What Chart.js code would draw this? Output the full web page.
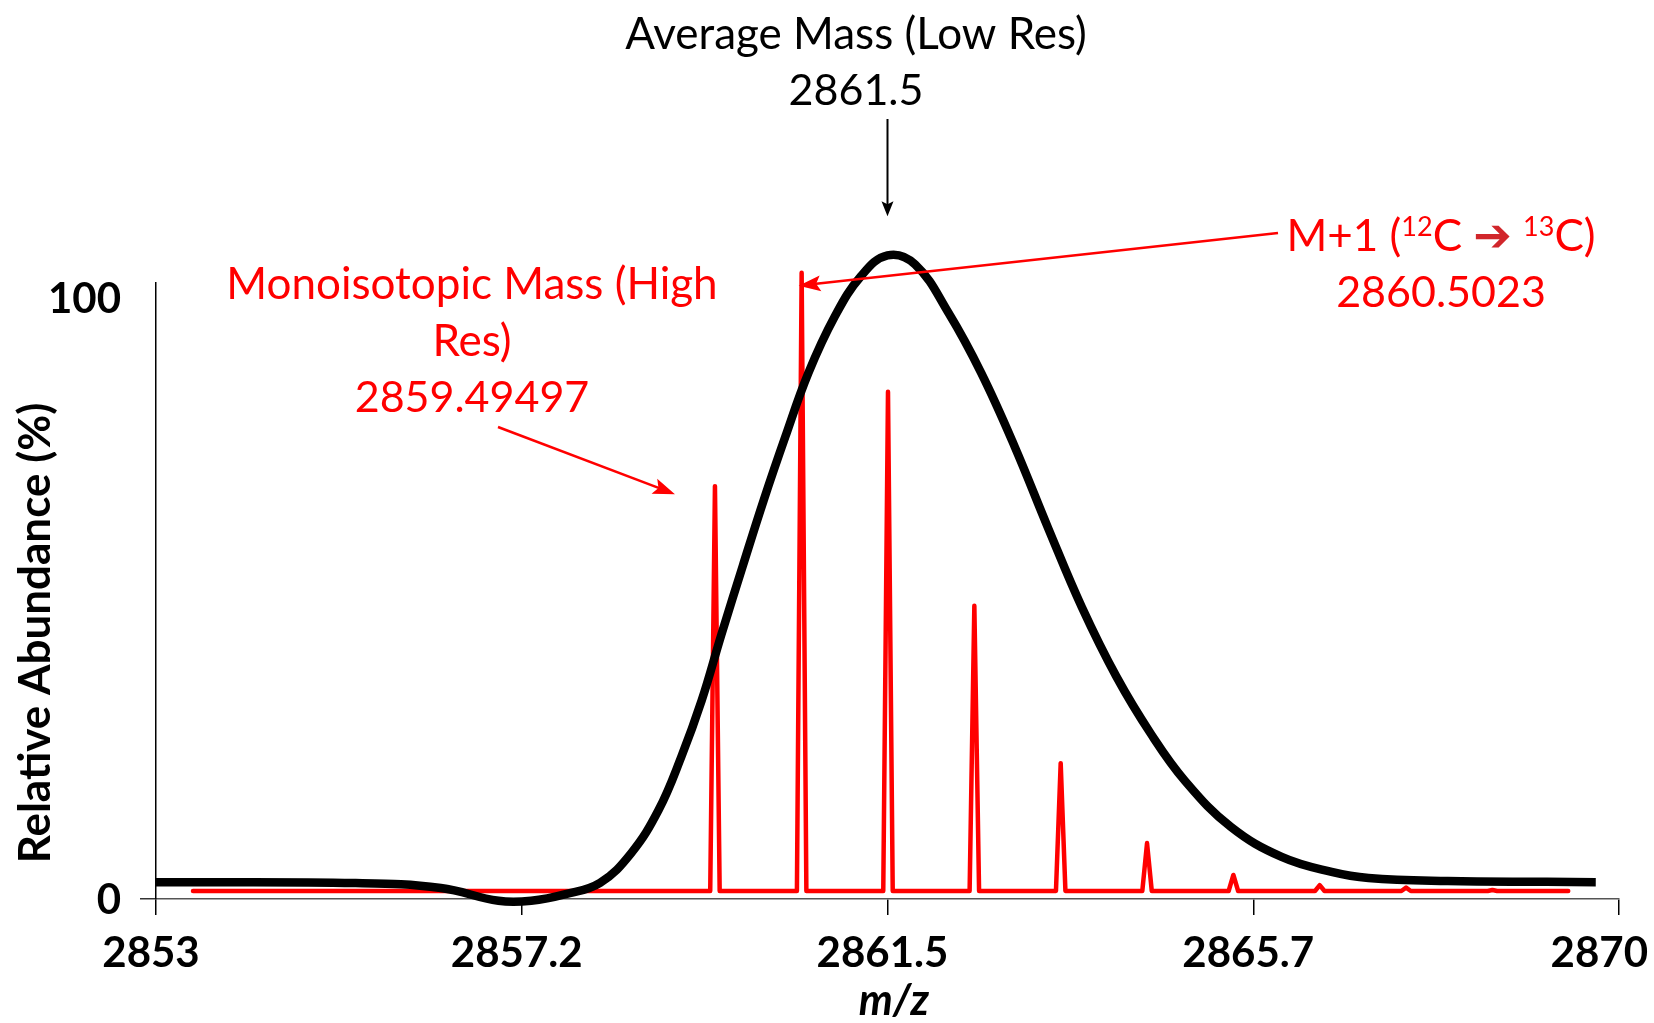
<!DOCTYPE html>
<html>
<head>
<meta charset="utf-8">
<script src="https://cdn.jsdelivr.net/npm/chart.js@4.4.1/dist/chart.umd.min.js"></script>
<style>
  html, body { margin: 0; padding: 0; background: #fff; }
  canvas { display: block; }
</style>
</head>
<body>
<canvas id="spectrum" width="1654" height="1023"></canvas>
<script>
// axis ticks
const xTickValues = [2853, 2857.25, 2861.5, 2865.75, 2870];
const xTickLabels = ['2853', '2857.2', '2861.5', '2865.7', '2870'];
const yTickValues = [0, 100];
const yTickLabels = ['0', '100'];

// low resolution envelope (black trace)
const lowResMz = [2853.00, 2855.32, 2856.31, 2856.98, 2857.36, 2857.76, 2858.16, 2858.52, 2858.84,
  2859.10, 2859.34, 2859.57, 2859.82, 2860.06, 2860.31, 2860.58, 2860.89, 2861.19, 2861.50,
  2861.82, 2862.21, 2862.59, 2862.98, 2863.37, 2863.76, 2864.16, 2864.56, 2864.96, 2865.49,
  2866.08, 2866.66, 2867.09, 2868.01, 2869.16, 2869.73];
const lowResAbundance = [2.8, 2.66, 1.83, -0.3, -0.3, 0.8, 2.7, 7.6, 14.8,
  23.5, 33.0, 44.0, 55.5, 66.3, 76.8, 87.5, 97.0, 103.6, 107.1,
  105.6, 97.5, 87.5, 75.2, 61.6, 48.5, 37.0, 27.5, 19.6, 12.0,
  7.0, 4.5, 3.5, 3.0, 2.85, 2.8];

// high resolution isotope peaks (red trace)
const isotopeMz = [2859.49497, 2860.5023, 2861.5057, 2862.5091, 2863.5124, 2864.5158,
  2865.5191, 2866.5225, 2867.5258, 2868.5292];
const isotopeAbundance = [68.7, 104.2, 84.4, 48.8, 22.6, 9.3, 4.0, 2.3, 1.9, 1.5];
const highResBaseline = 1.33;
const highResStart = 2853.43;
const highResEnd = 2869.41;
const peakHalfWidth = 0.055;

const averageMass = 2861.5;
const monoisotopicMass = 2859.49497;
const mPlusOneMass = 2860.5023;

const FONT = 'Lato, "Open Sans", sans-serif';
const RED = '#ff0000';

const lowResPoints = lowResMz.map((mz, i) => ({ x: mz, y: lowResAbundance[i] }));

const highResPoints = [{ x: highResStart, y: highResBaseline }];
isotopeMz.forEach((mz, i) => {
  highResPoints.push({ x: mz - peakHalfWidth, y: highResBaseline });
  highResPoints.push({ x: mz, y: isotopeAbundance[i] });
  highResPoints.push({ x: mz + peakHalfWidth, y: highResBaseline });
});
highResPoints.push({ x: highResEnd, y: highResBaseline });

function drawArrow(ctx, x0, y0, x1, y1, color, width, headLen, headHalf) {
  const a = Math.atan2(y1 - y0, x1 - x0);
  const cos = Math.cos(a), sin = Math.sin(a);
  ctx.save();
  ctx.strokeStyle = color;
  ctx.fillStyle = color;
  ctx.lineWidth = width;
  ctx.beginPath();
  ctx.moveTo(x0, y0);
  ctx.lineTo(x1 - cos * headLen * 0.7, y1 - sin * headLen * 0.7);
  ctx.stroke();
  ctx.beginPath();
  ctx.moveTo(x1, y1);
  ctx.lineTo(x1 - cos * headLen + sin * headHalf, y1 - sin * headLen - cos * headHalf);
  ctx.lineTo(x1 - cos * headLen * 0.8, y1 - sin * headLen * 0.8);
  ctx.lineTo(x1 - cos * headLen - sin * headHalf, y1 - sin * headLen + cos * headHalf);
  ctx.closePath();
  ctx.fill();
  ctx.restore();
}

// text centred on the middle of its capitals
function capText(ctx, text, x, capMid, size, align) {
  ctx.textAlign = align || 'center';
  ctx.textBaseline = 'alphabetic';
  ctx.fillText(text, x, capMid + size * 0.36);
}

const annotations = {
  id: 'annotations',
  afterDraw(chart) {
    const ctx = chart.ctx;
    const xs = chart.scales.x;
    const ys = chart.scales.y;
    ctx.save();

    // tick labels
    ctx.fillStyle = '#000';
    ctx.font = 'bold 42px ' + FONT;
    xTickValues.forEach((v, i) => {
      const w = ctx.measureText(xTickLabels[i]).width;
      const px = Math.min(xs.getPixelForValue(v) - 5, chart.width - 6 - w / 2);
      capText(ctx, xTickLabels[i], px, 952, 42);
    });
    yTickValues.forEach((v, i) => {
      capText(ctx, yTickLabels[i], 121, ys.getPixelForValue(v), 42, 'right');
    });

    // axis titles
    ctx.font = 'italic bold 43px ' + FONT;
    ctx.textAlign = 'center';
    ctx.textBaseline = 'alphabetic';
    ctx.fillText('m/z', 894, 1015);
    ctx.save();
    ctx.translate(34, 633);
    ctx.rotate(-Math.PI / 2);
    ctx.font = 'bold 44px ' + FONT;
    capText(ctx, 'Relative Abundance (%)', 0, 0, 44);
    ctx.restore();

    // average mass (low res)
    const size = 44, supSize = 27;
    ctx.fillStyle = '#000';
    ctx.font = size + 'px ' + FONT;
    capText(ctx, 'Average Mass (Low Res)', 856, 33, size);
    ctx.font = '43px ' + FONT;
    capText(ctx, String(averageMass), 856, 90, 43);
    const avgX = xs.getPixelForValue(averageMass);
    const avgTop = ys.getPixelForValue(Math.max(...lowResAbundance));
    drawArrow(ctx, avgX, 119, avgX, avgTop - 39, '#000', 2, 15, 6);

    // monoisotopic mass (high res)
    ctx.fillStyle = RED;
    ctx.font = size + 'px ' + FONT;
    capText(ctx, 'Monoisotopic Mass (High', 472, 283, size);
    capText(ctx, 'Res)', 472, 340, size);
    ctx.font = '43px ' + FONT;
    capText(ctx, String(monoisotopicMass), 472, 397, 43);
    const monoX = xs.getPixelForValue(monoisotopicMass);
    const monoY = ys.getPixelForValue(isotopeAbundance[0]);
    drawArrow(ctx, 498, 427, monoX - 40, monoY + 8, RED, 2.5, 22, 8);

    // M+1 label with superscripts
    const parts = [
      { t: 'M+1 (', f: size + 'px ' + FONT, dy: 0, c: RED },
      { t: '12', f: supSize + 'px ' + FONT, dy: -15, c: RED },
      { t: 'C ', f: size + 'px ' + FONT, dy: 0, c: RED },
      { t: '\u2794', f: 'bold 46px "DejaVu Sans"', dy: 0, c: '#d1262b' },
      { t: ' ', f: size + 'px ' + FONT, dy: 0, c: RED },
      { t: '13', f: supSize + 'px ' + FONT, dy: -15, c: RED },
      { t: 'C)', f: size + 'px ' + FONT, dy: 0, c: RED }
    ];
    let total = 0;
    parts.forEach(p => { ctx.font = p.f; p.w = ctx.measureText(p.t).width; total += p.w; });
    let cx = 1441 - total / 2;
    ctx.textAlign = 'left';
    ctx.textBaseline = 'alphabetic';
    parts.forEach(p => {
      ctx.font = p.f;
      ctx.fillStyle = p.c;
      ctx.fillText(p.t, cx, 235 + size * 0.36 + p.dy);
      cx += p.w;
    });
    ctx.fillStyle = RED;
    ctx.font = '43px ' + FONT;
    capText(ctx, String(mPlusOneMass), 1441, 292, 43);
    const m1X = xs.getPixelForValue(mPlusOneMass);
    const m1Y = ys.getPixelForValue(isotopeAbundance[1]);
    drawArrow(ctx, 1278, 233, m1X - 3, m1Y + 13, RED, 2.5, 22, 8);

    ctx.restore();
  }
};

new Chart(document.getElementById('spectrum'), {
  type: 'line',
  data: {
    datasets: [
      {
        label: 'Low resolution',
        data: lowResPoints,
        borderColor: '#000',
        borderWidth: 8.5,
        tension: 0.4,
        pointRadius: 0,
        clip: false
      },
      {
        label: 'High resolution',
        data: highResPoints,
        borderColor: RED,
        borderWidth: 4.5,
        tension: 0,
        pointRadius: 0,
        borderJoinStyle: 'round',
        borderCapStyle: 'round',
        clip: false
      }
    ]
  },
  options: {
    responsive: false,
    animation: false,
    events: [],
    layout: { padding: { top: 283, right: 35, bottom: 0, left: 0 } },
    plugins: { legend: { display: false }, tooltip: { enabled: false } },
    scales: {
      x: {
        type: 'linear',
        min: 2853,
        max: 2870,
        afterBuildTicks: s => { s.ticks = xTickValues.map(v => ({ value: v })); },
        afterFit: s => { s.height = 124; s.paddingLeft = 0; s.paddingRight = 0; },
        ticks: { display: false },
        grid: { drawOnChartArea: false, drawTicks: true, tickLength: 16, color: '#000', lineWidth: 1.5 },
        border: { color: '#555', width: 1.5 }
      },
      y: {
        type: 'linear',
        min: 0,
        max: 102.5,
        afterBuildTicks: s => { s.ticks = yTickValues.map(v => ({ value: v })); },
        afterFit: s => { s.width = 156; s.paddingTop = 0; s.paddingBottom = 0; },
        ticks: { display: false },
        grid: {
          drawOnChartArea: false,
          drawTicks: true,
          tickLength: 16,
          lineWidth: 1.5,
          color: c => (c.tick && c.tick.value === 0 ? '#333' : 'rgba(0,0,0,0)')
        },
        border: { color: '#000', width: 1.5 }
      }
    }
  },
  plugins: [annotations]
});
</script>
</body>
</html>
